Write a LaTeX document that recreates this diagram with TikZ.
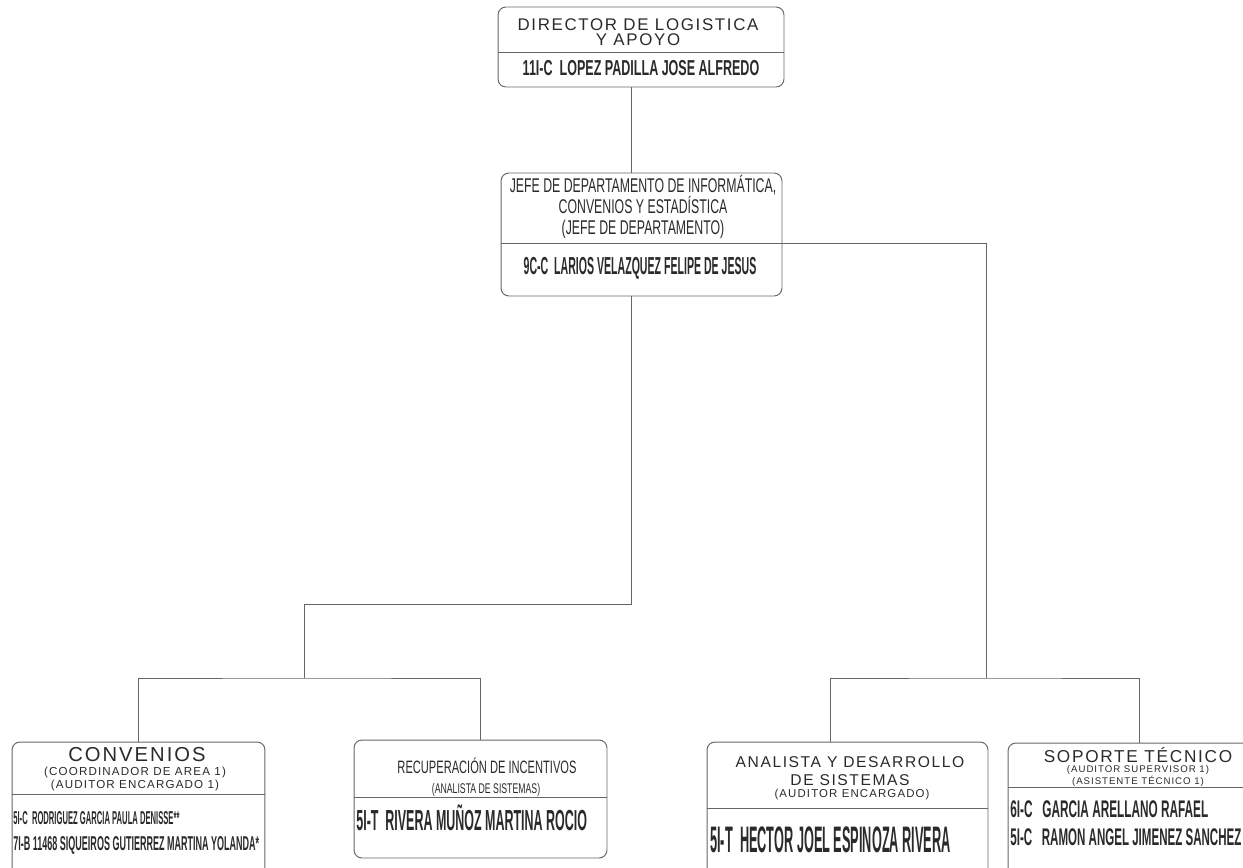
\documentclass[tikz,border=0pt]{standalone}
\usepackage{fontspec}
\usepackage{graphicx}
\setmainfont{Liberation Sans}
\newfontfamily\headfont[LetterSpace=10]{Liberation Sans}
\usetikzlibrary{calc}
\definecolor{ink}{HTML}{2A2A2A}
\definecolor{rule}{HTML}{666666}
\newcommand{\squeeze}[2]{\scalebox{#1}[1]{#2}}
\newcommand{\fs}[2]{\fontsize{#1}{#2}\selectfont}
\tikzset{
  box/.style={draw=rule, line width=0.55pt, rounded corners=4.5pt, inner sep=0pt},
  link/.style={draw=rule, line width=0.55pt},
  headtext/.style={text=ink, align=center, inner sep=0pt},
  staff/.style={text=ink, inner sep=0pt, anchor=west},
}

\begin{document}
\begin{tikzpicture}[x=0.02cm, y=-0.02cm]
  \useasboundingbox (0,0) rectangle (1243,868);
  % boxes
  \node[box, minimum width=5.72cm, minimum height=1.6cm] (dir) at (641,47) {};
  \node[box, minimum width=5.62cm, minimum height=2.46cm] (jefe) at (641.5,234.5) {};
  \node[box, minimum width=5.06cm, minimum height=2.76cm] (conv) at (138.5,811) {};
  \node[box, minimum width=5.06cm, minimum height=2.36cm] (recup) at (480.5,799) {};
  \node[box, minimum width=5.62cm, minimum height=2.76cm] (anal) at (847.5,811) {};
  \node[box, minimum width=5.24cm, minimum height=2.74cm] (sop) at (1139,811.5) {};
  \draw[link] ($(dir.north west)+(0,46)$) -- ($(dir.north east)+(0,46)$);
  \draw[link] ($(jefe.north west)+(0,71)$) -- ($(jefe.north east)+(0,71)$);
  \draw[link] ($(conv.north west)+(0,53)$) -- ($(conv.north east)+(0,53)$);
  \draw[link] ($(recup.north west)+(0,58)$) -- ($(recup.north east)+(0,58)$);
  \draw[link] ($(anal.north west)+(0,67)$) -- ($(anal.north east)+(0,67)$);
  \draw[link] ($(sop.north west)+(0,45)$) -- ($(sop.north east)+(0,45)$);

  % texts
  \node[headtext, font=\headfont\fs{9.6}{8.5}] (dirtitle) at (638,32) {DIRECTOR DE LOGISTICA\\Y APOYO};
  \node[headtext, font=\bfseries\fs{12.3}{14}] (dirname) at (641,68) {\squeeze{0.58}{11I-C\ \ LOPEZ PADILLA JOSE ALFREDO}};
  \node[headtext, font=\fs{11.3}{12}] (jefetitle) at (643,207)
    {\squeeze{0.62}{JEFE DE DEPARTAMENTO DE INFORMÁTICA,}\\\squeeze{0.62}{CONVENIOS Y ESTADÍSTICA}\\\squeeze{0.62}{(JEFE DE DEPARTAMENTO)}};
  \node[headtext, font=\bfseries\fs{14}{15}] (jefename) at (640,268) {\squeeze{0.43}{9C-C\ \ LARIOS VELAZQUEZ FELIPE DE JESUS}};

  \node[headtext, font=\headfont\fs{11.5}{12}] (convtitle) at (137,755) {CONVENIOS};
  \node[headtext, font=\headfont\fs{6.6}{5.7}] (convrole) at (135,779) {(COORDINADOR DE AREA 1)\\(AUDITOR ENCARGADO 1)};
  \node[staff, font=\bfseries\fs{10.6}{12}] (convstaffa) at (13,818) {\squeeze{0.41}{5I-C\ \ RODRIGUEZ GARCIA PAULA DENISSE**}};
  \node[staff, font=\bfseries\fs{11.4}{12}] (convstaffb) at (13,845) {\squeeze{0.45}{7I-B 11468 SIQUEIROS GUTIERREZ MARTINA YOLANDA*}};

  \node[headtext, font=\fs{10.2}{12}] (recuptitle) at (487,766) {\squeeze{0.62}{RECUPERACIÓN DE INCENTIVOS}};
  \node[headtext, font=\fs{8}{10}] (recuprole) at (486,790) {\squeeze{0.62}{(ANALISTA DE SISTEMAS)}};
  \node[staff, font=\bfseries\fs{16.5}{18}] (recupname) at (356,818) {\squeeze{0.43}{5I-T\ \ RIVERA MUÑOZ MARTINA ROCIO}};

  \node[headtext, font=\headfont\fs{8.9}{10.2}] (analtitle) at (850,771) {ANALISTA Y DESARROLLO\\DE SISTEMAS};
  \node[headtext, font=\headfont\fs{6.5}{8}] (analrole) at (852,795) {(AUDITOR ENCARGADO)};
  \node[staff, font=\bfseries\fs{21}{22}] (analname) at (710,840) {\squeeze{0.345}{5I-T\ \ HECTOR JOEL ESPINOZA RIVERA}};

  \node[headtext, font=\headfont\fs{9.8}{11}] (soptitle) at (1138,755) {SOPORTE TÉCNICO};
  \node[headtext, font=\headfont\fs{5.5}{5.1}] (soprole) at (1138,776) {(AUDITOR SUPERVISOR 1)\\(ASISTENTE TÉCNICO 1)};
  \node[staff, font=\bfseries\fs{13.7}{15}] (sopstaffa) at (1010,809) {\squeeze{0.49}{6I-C\ \ \ GARCIA ARELLANO RAFAEL}};
  \node[staff, font=\bfseries\fs{13.7}{15}] (sopstaffb) at (1010,837) {\squeeze{0.48}{5I-C\ \ \ RAMON ANGEL JIMENEZ SANCHEZ}};

  % connectors
  \coordinate (trunk) at (631,0);
  \coordinate (lbend) at (304,604);
  \coordinate (lfork) at (304,678);
  \coordinate (rfork) at (986,678);
  \coordinate (adrop) at (830,0);
  \draw[link] (dir.south -| trunk) -- (jefe.north -| trunk);
  \draw[link] (jefe.south -| trunk) |- (lbend) -- (lfork);
  \draw[link] (conv.north) |- (lfork) -| (recup.north);
  \draw[link] ($(jefe.north east)+(0,71)$) -| (rfork);
  \draw[link] (anal.north -| adrop) |- (rfork) -| (sop.north);
\end{tikzpicture}
\end{document}
